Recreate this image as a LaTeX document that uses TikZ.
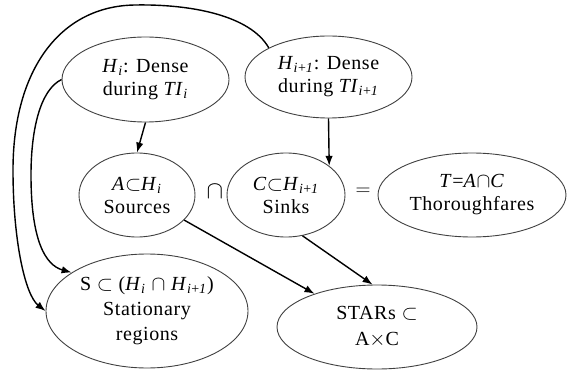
\documentclass[tikz,border=0pt]{standalone}
\usepackage{fontspec}
\setmainfont{Liberation Serif}[LetterSpace=3]
\usetikzlibrary{shapes.geometric,arrows.meta}
\newcommand{\Hsubi}{\textit{H}\textsubscript{\textit{i}}}
\newcommand{\Hsubj}{\textit{H}\textsubscript{\textit{i}+\textit{1}}}
\begin{document}
\begin{tikzpicture}[x=1pt,y=-1pt,
  ell/.style={ellipse, draw=black!75, line width=0.9pt, inner sep=0pt, align=center,
    font=\fontsize{20}{23}\selectfont},
  sym/.style={inner sep=0pt, font=\fontsize{25}{28}\selectfont},
  arr/.style={-{Latex[length=10pt,width=7.5pt]}, line width=1.4pt}]
\useasboundingbox (0,0) rectangle (567,374);
\node[ell, minimum width=167pt, minimum height=85pt] (hi) at (145.5,79.5)
  {\Hsubi: Dense\\during \textit{TI}\textsubscript{\textit{i}}};
\node[ell, minimum width=167pt, minimum height=82pt] (hj) at (328.5,77)
  {\Hsubj: Dense\\during \textit{TI}\textsubscript{\textit{i}+\textit{1}}};
\node[ell, minimum width=116pt, minimum height=84pt] (a) at (137,195)
  {\textit{A}$\subset$\Hsubi\\Sources};
\node[ell, minimum width=118pt, minimum height=84pt] (c) at (286,195)
  {\textit{C}$\subset$\Hsubj\\Sinks};
\node[sym] (cap) at (215,192) {$\cap$};
\node[sym, font=\fontsize{20}{23}\selectfont] (eq) at (363,192) {$=$};
\node[ell, minimum width=188pt, minimum height=84pt] (t) at (472,195)
  {\textit{T}=\textit{A}$\cap$\textit{C}\\Thoroughfares};
\node[ell, minimum width=202pt, minimum height=114pt,
  font=\fontsize{20}{25}\selectfont] (s) at (147,311)
  {S $\subset$ (\Hsubi\ $\cap$ \Hsubj)\\Stationary\\regions};
\node[ell, minimum width=200pt, minimum height=84pt,
  font=\fontsize{20}{26}\selectfont] (st) at (377,327)
  {STARs $\subset$\\A$\times$C};
\draw[arr] (hi.south) -- (a.north);
\draw[arr] (hj.south) -- (c.34);
\draw[arr] (a.-28) -- (st.152);
\draw[arr] (c.-68) -- (st.96);
\draw[arr] (hi.west) .. controls (40,90) and (31,130) .. (31,175)
  .. controls (31,240) and (45,265) .. (s.153);
\draw[arr] (hj.154) .. controls (250,15) and (190,4) .. (135,5)
  .. controls (60,6) and (13,70) .. (13,170)
  .. controls (13,240) and (25,295) .. (s.west);
\end{tikzpicture}
\end{document}
